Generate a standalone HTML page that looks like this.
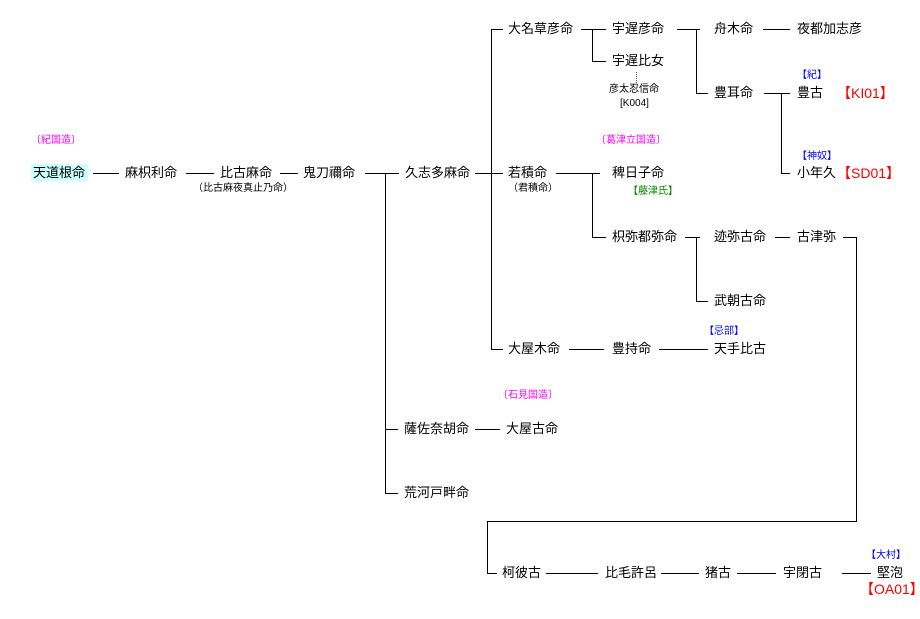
<!DOCTYPE html>
<html><head><meta charset="utf-8"><style>
html,body{margin:0;padding:0;background:#fff;}
#c{position:relative;width:920px;height:619px;overflow:hidden;font-family:"Liberation Sans","Noto Sans CJK JP",sans-serif;color:#000;}
.t{position:absolute;font-size:13px;line-height:16px;white-space:nowrap;}
.s{position:absolute;font-size:10px;line-height:12px;white-space:nowrap;}
.r{position:absolute;font-size:14px;line-height:16px;white-space:nowrap;color:#f00;}
.h{position:absolute;height:1px;background:#000;}
.v{position:absolute;width:1px;background:#000;}
.m{color:#f0f;}.b{color:#00f;}.g{color:#080;}
</style></head><body><div id="c">
<div style="position:absolute;left:31px;top:164px;width:57px;height:17px;background:#ccffff"></div>
<div class="s m" style="left:31px;top:135px">〔紀国造〕</div>
<div class="t" style="left:33px;top:165px">天道根命</div>
<div class="h" style="left:93px;top:173px;width:26px"></div>
<div class="t" style="left:125px;top:165px">麻枳利命</div>
<div class="h" style="left:186px;top:173px;width:28px"></div>
<div class="t" style="left:220px;top:165px">比古麻命</div>
<div class="s" style="left:193px;top:183px">（比古麻夜真止乃命）</div>
<div class="h" style="left:280px;top:173px;width:18px"></div>
<div class="t" style="left:303px;top:165px">鬼刀禰命</div>
<div class="h" style="left:365px;top:173px;width:34px"></div>
<div class="v" style="left:385px;top:173px;height:321px"></div>
<div class="t" style="left:405px;top:165px">久志多麻命</div>
<div class="h" style="left:475px;top:173px;width:28px"></div>
<div class="v" style="left:491px;top:29px;height:321px"></div>
<div class="h" style="left:491px;top:29px;width:12px"></div>
<div class="h" style="left:491px;top:349px;width:12px"></div>
<div class="t" style="left:508px;top:21px">大名草彦命</div>
<div class="h" style="left:581px;top:29px;width:25px"></div>
<div class="v" style="left:592px;top:29px;height:33px"></div>
<div class="h" style="left:592px;top:61px;width:14px"></div>
<div class="t" style="left:612px;top:21px">宇遅彦命</div>
<div class="t" style="left:612px;top:53px">宇遅比女</div>
<div style="position:absolute;left:636px;top:72px;height:11px;border-left:1px dotted #666"></div>
<div class="s" style="left:609px;top:84px">彦太忍信命</div>
<div class="s" style="left:620px;top:98px">[K004]</div>
<div class="h" style="left:677px;top:29px;width:23px"></div>
<div class="v" style="left:696px;top:29px;height:65px"></div>
<div class="h" style="left:696px;top:93px;width:12px"></div>
<div class="t" style="left:714px;top:21px">舟木命</div>
<div class="h" style="left:763px;top:29px;width:27px"></div>
<div class="t" style="left:797px;top:21px">夜都加志彦</div>
<div class="t" style="left:714px;top:85px">豊耳命</div>
<div class="h" style="left:764px;top:93px;width:26px"></div>
<div class="v" style="left:781px;top:93px;height:81px"></div>
<div class="h" style="left:781px;top:173px;width:9px"></div>
<div class="s b" style="left:797px;top:70px">【紀】</div>
<div class="t" style="left:797px;top:85px">豊古</div>
<div class="r" style="left:837px;top:85px">【KI01】</div>
<div class="s b" style="left:797px;top:151px">【神奴】</div>
<div class="t" style="left:797px;top:165px">小年久</div>
<div class="r" style="left:837px;top:165px">【SD01】</div>
<div class="s m" style="left:596px;top:135px">〔葛津立国造〕</div>
<div class="t" style="left:508px;top:165px">若積命</div>
<div class="s" style="left:508px;top:183px">（君積命）</div>
<div class="h" style="left:556px;top:173px;width:44px"></div>
<div class="v" style="left:592px;top:173px;height:65px"></div>
<div class="h" style="left:592px;top:237px;width:14px"></div>
<div class="t" style="left:612px;top:165px">稗日子命</div>
<div class="s g" style="left:628px;top:186px">【藤津氏】</div>
<div class="t" style="left:612px;top:229px">枳弥都弥命</div>
<div class="h" style="left:685px;top:237px;width:15px"></div>
<div class="v" style="left:696px;top:237px;height:65px"></div>
<div class="h" style="left:696px;top:301px;width:12px"></div>
<div class="t" style="left:714px;top:229px">迹弥古命</div>
<div class="h" style="left:775px;top:237px;width:15px"></div>
<div class="t" style="left:797px;top:229px">古津弥</div>
<div class="h" style="left:843px;top:237px;width:14px"></div>
<div class="v" style="left:856px;top:237px;height:285px"></div>
<div class="h" style="left:487px;top:521px;width:370px"></div>
<div class="v" style="left:487px;top:521px;height:53px"></div>
<div class="h" style="left:487px;top:573px;width:10px"></div>
<div class="t" style="left:714px;top:293px">武朝古命</div>
<div class="t" style="left:508px;top:341px">大屋木命</div>
<div class="h" style="left:569px;top:349px;width:35px"></div>
<div class="t" style="left:612px;top:341px">豊持命</div>
<div class="h" style="left:659px;top:349px;width:49px"></div>
<div class="s b" style="left:704px;top:326px">【忌部】</div>
<div class="t" style="left:714px;top:341px">天手比古</div>
<div class="s m" style="left:498px;top:390px">〔石見国造〕</div>
<div class="h" style="left:385px;top:429px;width:13px"></div>
<div class="t" style="left:404px;top:421px">薩佐奈胡命</div>
<div class="h" style="left:475px;top:429px;width:25px"></div>
<div class="t" style="left:506px;top:421px">大屋古命</div>
<div class="h" style="left:385px;top:493px;width:13px"></div>
<div class="t" style="left:404px;top:485px">荒河戸畔命</div>
<div class="t" style="left:502px;top:565px">柯彼古</div>
<div class="h" style="left:546px;top:573px;width:52px"></div>
<div class="t" style="left:605px;top:565px">比毛許呂</div>
<div class="h" style="left:661px;top:573px;width:38px"></div>
<div class="t" style="left:705px;top:565px">猪古</div>
<div class="h" style="left:737px;top:573px;width:39px"></div>
<div class="t" style="left:783px;top:565px">宇閉古</div>
<div class="h" style="left:842px;top:573px;width:29px"></div>
<div class="s b" style="left:866px;top:550px">【大村】</div>
<div class="t" style="left:877px;top:565px">堅泡</div>
<div class="r" style="left:860px;top:581px">【OA01】</div>
</div></body></html>
